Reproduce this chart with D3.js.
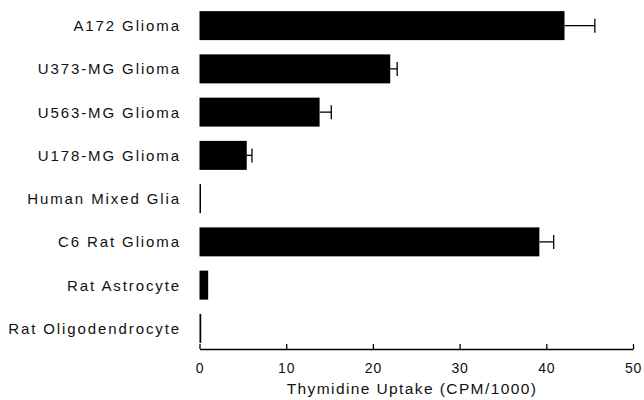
<!DOCTYPE html>
<html>
<head>
<meta charset="utf-8">
<script src="https://cdn.jsdelivr.net/npm/d3@7"></script>
<style>
  body { margin: 0; background: #fff; }
  svg text { font-family: "Liberation Sans", Arial, sans-serif; fill: #111; }
</style>
</head>
<body>
<div id="chart"></div>
<script>
var categories = ["A172 Glioma", "U373-MG Glioma", "U563-MG Glioma", "U178-MG Glioma",
  "Human Mixed Glia", "C6 Rat Glioma", "Rat Astrocyte", "Rat Oligodendrocyte"];
var uptake = [42.1, 22.0, 13.85, 5.45, 0.15, 39.2, 1.0, 0.2];
var uptakeErr = [3.5, 0.8, 1.35, 0.6, 0, 1.65, 0, 0];
var xTicks = [0, 10, 20, 30, 40, 50];
var xTitle = "Thymidine Uptake (CPM/1000)";

var width = 644, height = 400;
var data = categories.map(function(c, i){ return {name: c, value: uptake[i], err: uptakeErr[i]}; });

var svg = d3.select("#chart").append("svg")
  .attr("width", width).attr("height", height);

var x = d3.scaleLinear().domain([0, 50]).range([199.5, 633]);
var y = d3.scaleBand().domain(categories).range([4, 350])
  .paddingInner(0.33).paddingOuter(0.165);

// bars
svg.selectAll("rect.bar").data(data)
  .enter().append("rect").attr("class", "bar")
  .attr("x", x(0))
  .attr("y", function(d){ return y(d.name); })
  .attr("width", function(d){ return Math.max(1.5, x(d.value) - x(0)); })
  .attr("height", y.bandwidth())
  .attr("fill", "#000");

// error bars
var eb = svg.selectAll("g.err").data(data.filter(function(d){ return d.err > 0; }))
  .enter().append("g").attr("class", "err")
  .attr("stroke", "#000").attr("stroke-width", 1.3);
eb.append("line")
  .attr("x1", function(d){ return x(d.value); })
  .attr("x2", function(d){ return x(d.value + d.err); })
  .attr("y1", function(d){ return y(d.name) + y.bandwidth() / 2; })
  .attr("y2", function(d){ return y(d.name) + y.bandwidth() / 2; });
eb.append("line")
  .attr("x1", function(d){ return x(d.value + d.err); })
  .attr("x2", function(d){ return x(d.value + d.err); })
  .attr("y1", function(d){ return y(d.name) + y.bandwidth() / 2 - 7; })
  .attr("y2", function(d){ return y(d.name) + y.bandwidth() / 2 + 7; });

// category labels
svg.selectAll("text.cat").data(categories)
  .enter().append("text").attr("class", "cat")
  .attr("x", 181)
  .attr("y", function(d){ return y(d) + y.bandwidth() / 2; })
  .attr("dy", "0.36em")
  .attr("text-anchor", "end")
  .style("font-size", "15px")
  .style("letter-spacing", "1.9px")
  .text(function(d){ return d; });

// x axis
var xAxis = svg.append("g")
  .attr("transform", "translate(0,349)")
  .call(d3.axisBottom(x).tickValues(xTicks).tickSizeInner(-5).tickSizeOuter(0).tickPadding(14));
xAxis.select(".domain").attr("stroke", "#000").attr("stroke-width", 1.5);
xAxis.selectAll(".tick line").attr("stroke", "#000").attr("stroke-width", 1.3);
xAxis.selectAll(".tick text")
  .style("font-size", "14px")
  .style("letter-spacing", "0.8px")
  .attr("fill", "#111");

svg.append("text")
  .attr("x", 412).attr("y", 394)
  .attr("text-anchor", "middle")
  .style("font-size", "15.5px")
  .style("letter-spacing", "1.4px")
  .text(xTitle);
</script>
</body>
</html>
